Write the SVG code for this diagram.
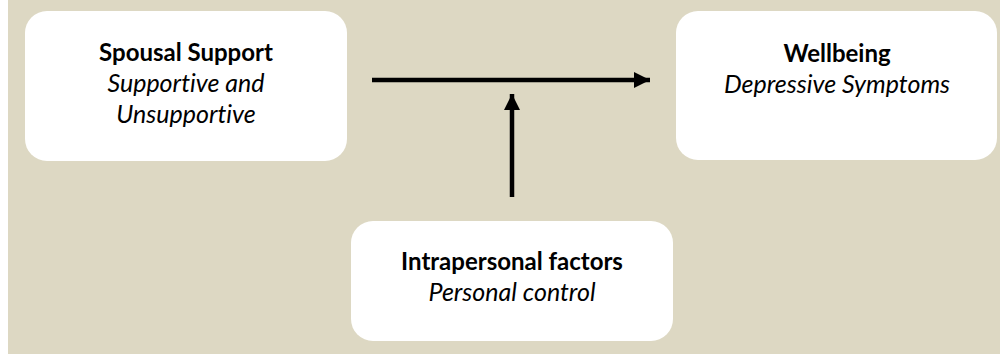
<svg xmlns="http://www.w3.org/2000/svg" width="1000" height="354" viewBox="0 0 1000 354">
<defs>
<style>
.box{fill:#ffffff;}
.t{font-family:Lato,"Liberation Sans",sans-serif;fill:#000;text-anchor:middle;font-variant-ligatures:none;}
.b{font-weight:bold;font-size:24px;}
.i{font-style:italic;font-size:25px;}
.c{stroke:#000;stroke-width:4.5;fill:none;}
</style>
<marker id="ah" markerUnits="userSpaceOnUse" markerWidth="17" markerHeight="17" viewBox="0 0 17 17" refX="16" refY="8.5" orient="auto">
<path d="M0,0.5 L16,8.5 L0,16.5 Z" fill="#000"/>
</marker>
</defs>
<rect x="0" y="0" width="1000" height="354" fill="#ffffff"/>
<rect x="8" y="0" width="992" height="354" fill="#ddd8c3"/>
<g id="spousal-support">
<rect class="box" x="25" y="11" width="322" height="150" rx="22"/>
<text class="t b" x="186" y="61">Spousal Support</text>
<text class="t i" x="186" y="92">Supportive and</text>
<text class="t i" x="186" y="123">Unsupportive</text>
</g>
<g id="wellbeing">
<rect class="box" x="676" y="11" width="321" height="149" rx="22"/>
<text class="t b" x="837" y="62">Wellbeing</text>
<text class="t i" x="837" y="93">Depressive Symptoms</text>
</g>
<g id="intrapersonal">
<rect class="box" x="351" y="221" width="322" height="120" rx="22"/>
<text class="t b" x="512" y="270">Intrapersonal factors</text>
<text class="t i" x="512" y="301">Personal control</text>
</g>
<g id="connectors">
<line class="c" x1="372" y1="80" x2="650" y2="80" marker-end="url(#ah)"/>
<line class="c" x1="512" y1="197" x2="512" y2="94" marker-end="url(#ah)"/>
</g>
</svg>
